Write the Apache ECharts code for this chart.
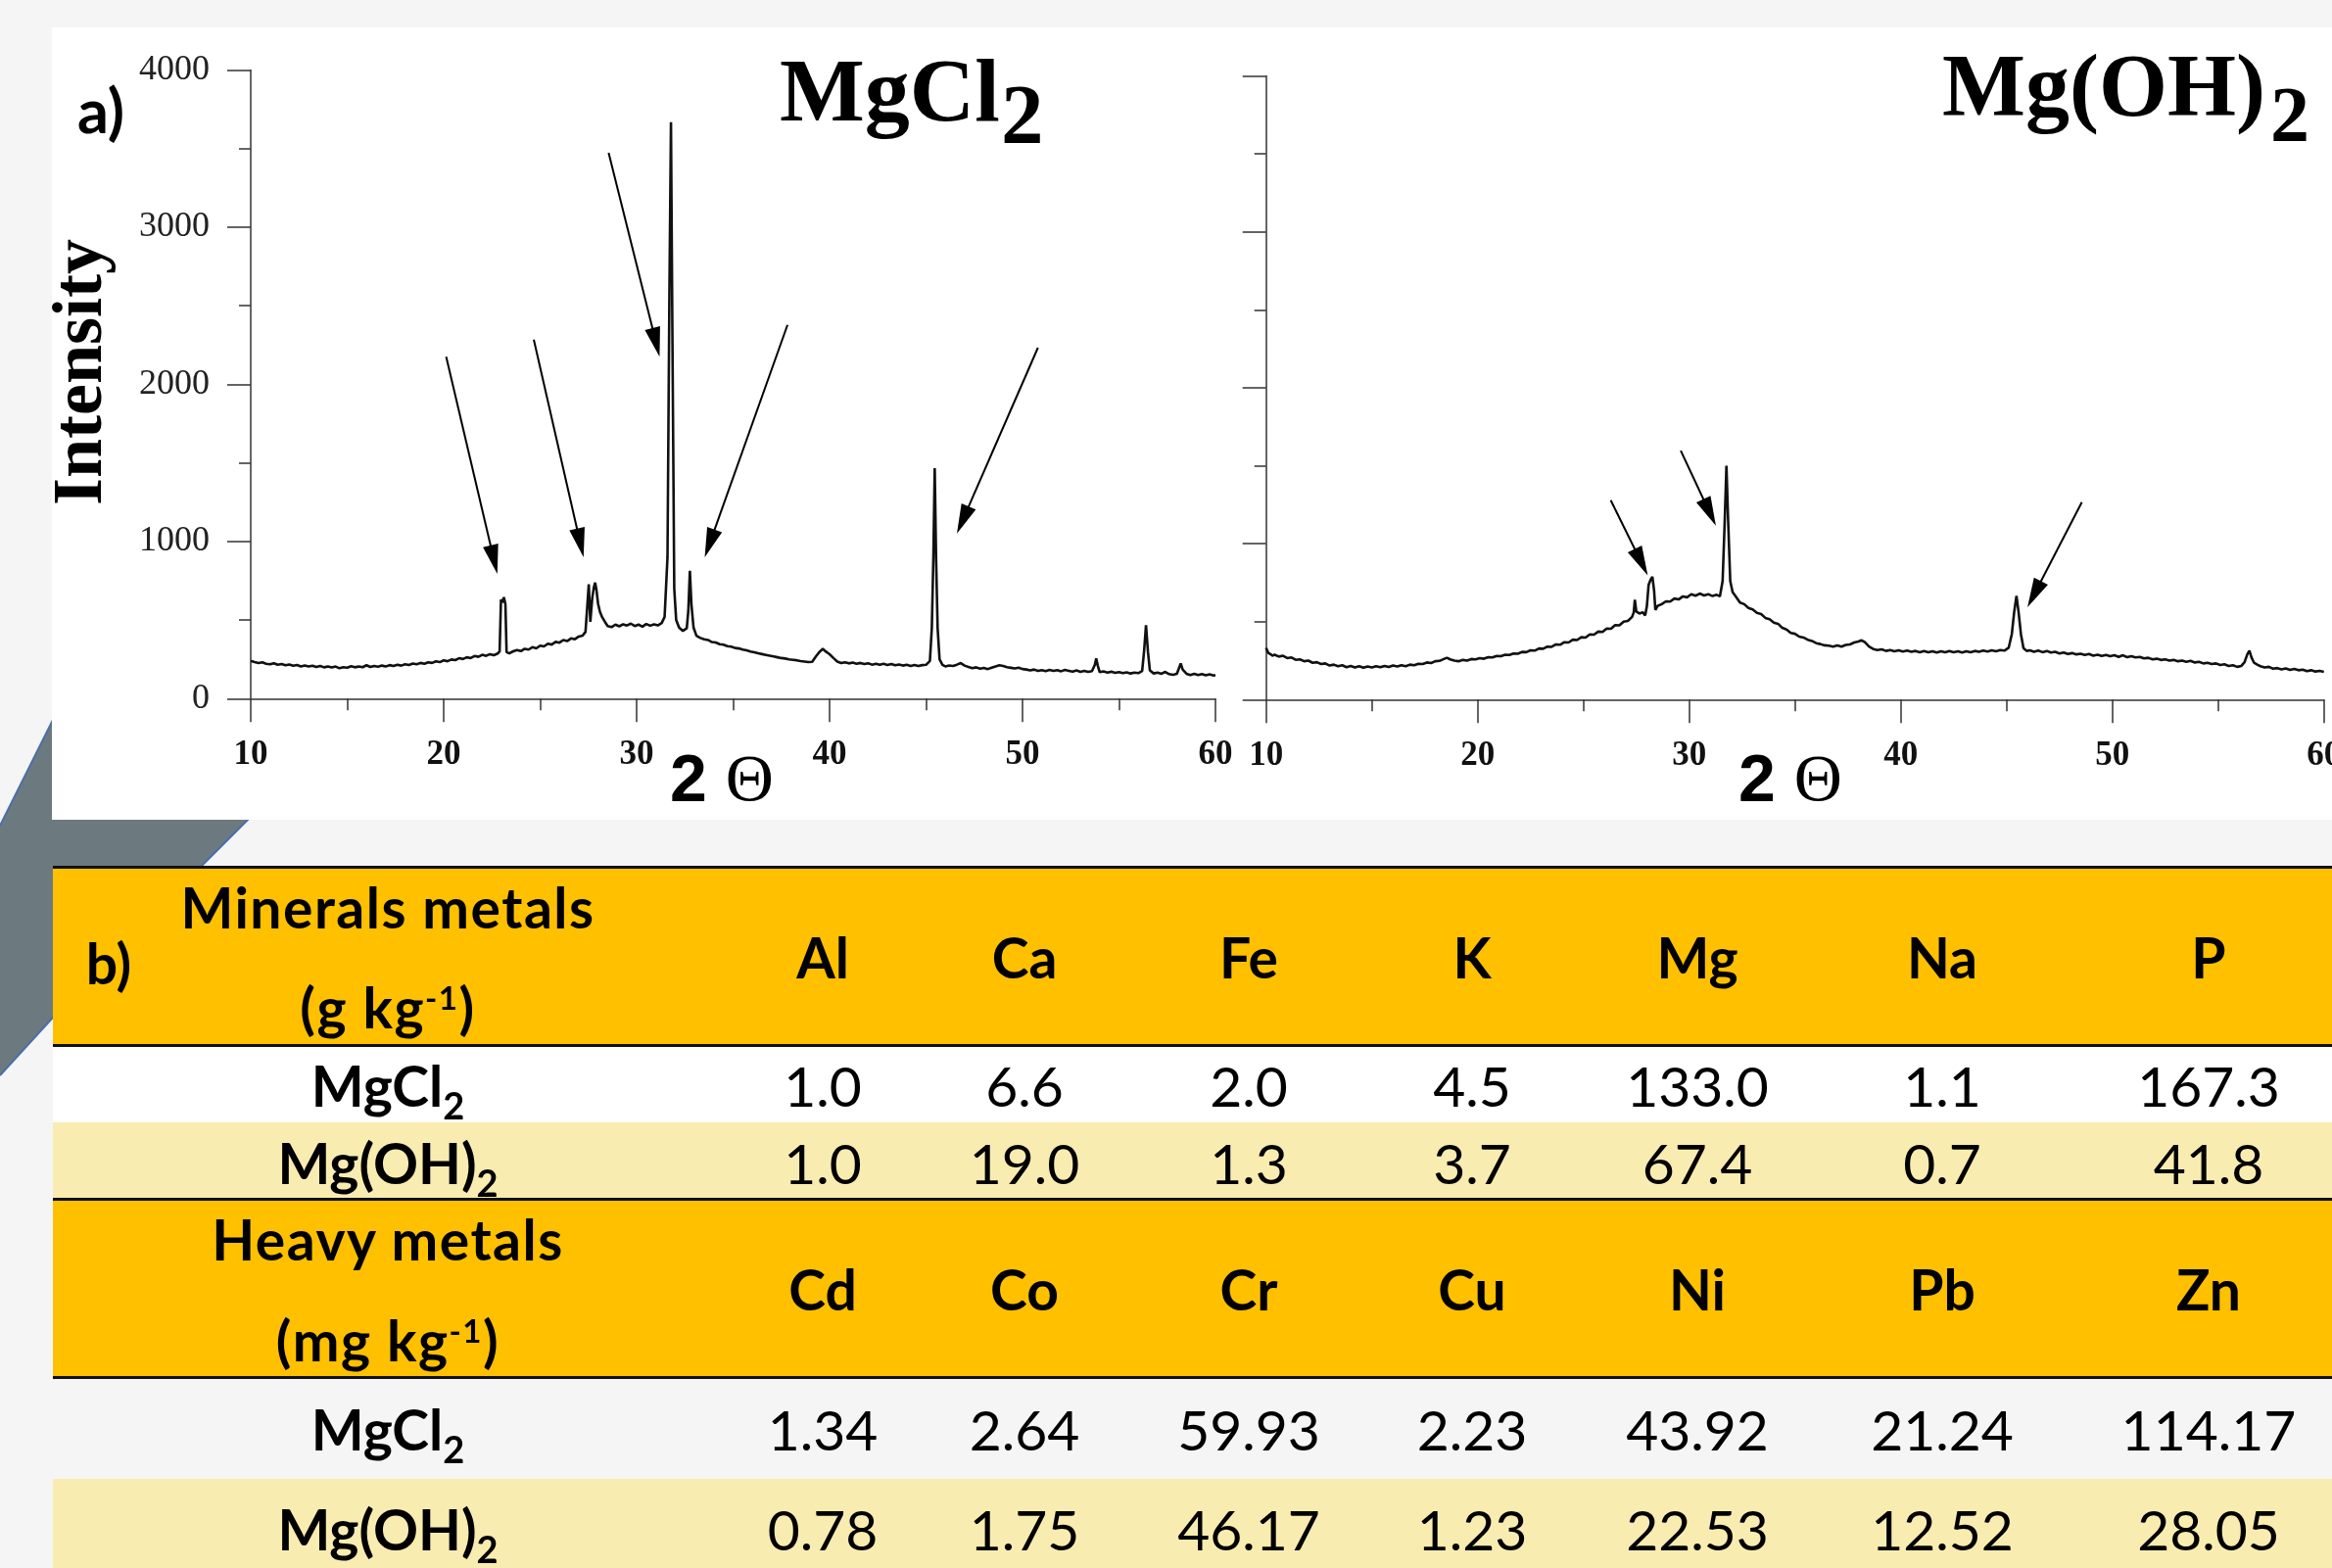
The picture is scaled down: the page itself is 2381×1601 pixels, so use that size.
<!DOCTYPE html>
<html>
<head>
<meta charset="utf-8">
<title>XRD patterns and metal contents</title>
<script src="https://cdn.jsdelivr.net/npm/echarts/dist/echarts.min.js"></script>
<style>
  html, body { margin: 0; padding: 0; }
  body { width: 2381px; height: 1601px; overflow: hidden; position: relative; background: #f5f5f5; }
  #chart { position: absolute; left: 0; top: 0; width: 2381px; height: 1601px; }
  #tbl { position: absolute; left: 0; top: 0; width: 2381px; height: 1601px; font-family: Lato, "Open Sans", sans-serif; color: #000; }
  #tbl .band { position: absolute; left: 54px; width: 2327px; }
  #tbl .rule { position: absolute; left: 54px; width: 2327px; height: 3px; background: #111; }
  #tbl .cell { position: absolute; width: 440px; height: 57px; line-height: 57px; font-size: 57px; text-align: center; white-space: nowrap; }
  #tbl .bold { font-weight: bold; }
  #tbl .wide { letter-spacing: 1.5px; }
  #tbl .sb { font-size: 38px; position: relative; top: 13px; }
  #tbl .sp { font-size: 33px; position: relative; top: -19px; }
</style>
</head>
<body>
<div id="chart"></div>
<div id="tbl"></div>
<script>
  // ---- b) table data ----
  const mineralHead = ['Al', 'Ca', 'Fe', 'K', 'Mg', 'Na', 'P']
  const mineralMgCl2 = [1.0, 6.6, 2.0, 4.5, 133.0, 1.1, 167.3]
  const mineralMgOH2 = [1.0, 19.0, 1.3, 3.7, 67.4, 0.7, 41.8]
  const heavyHead = ['Cd', 'Co', 'Cr', 'Cu', 'Ni', 'Pb', 'Zn']
  const heavyMgCl2 = [1.34, 2.64, 59.93, 2.23, 43.92, 21.24, 114.17]
  const heavyMgOH2 = [0.78, 1.75, 46.17, 1.23, 22.53, 12.52, 28.05]

  // ---- a) XRD patterns, [2theta, intensity] ----
  const mgcl2Pattern = [
    [10.0,240],[10.2,232],[10.4,226],[10.6,231],[10.8,222],[11.0,218],[11.2,225],[11.4,215],[11.6,220],[11.8,212],
    [12.0,217],[12.2,209],[12.4,214],[12.6,205],[12.8,211],[13.0,204],[13.2,209],[13.4,201],[13.6,207],[13.8,199],
    [14.0,205],[14.2,198],[14.4,204],[14.6,193],[14.7,185],[14.8,200],[15.0,197],[15.2,206],[15.4,199],[15.6,205],
    [15.8,200],[16.0,212],[16.2,201],[16.4,208],[16.6,203],[16.8,210],[17.0,205],[17.2,213],[17.4,207],[17.6,215],
    [17.8,210],[18.0,219],[18.2,214],[18.4,223],[18.6,218],[18.8,227],[19.0,222],[19.2,231],[19.4,227],[19.6,237],
    [19.8,232],[20.0,243],[20.2,238],[20.4,249],[20.6,245],[20.8,257],[21.0,252],[21.2,263],[21.4,258],[21.6,271],
    [21.8,266],[22.0,279],[22.2,272],[22.4,283],[22.6,276],[22.8,287],[22.9,300],[22.97,630],[23.05,612],[23.12,645],
    [23.2,600],[23.26,296],[23.4,288],[23.6,301],[23.8,309],[24.0,302],[24.2,317],[24.4,312],[24.6,327],[24.8,320],
    [25.0,337],[25.2,332],[25.4,349],[25.6,344],[25.8,361],[26.0,356],[26.2,373],[26.4,366],[26.6,383],[26.8,378],
    [27.0,395],[27.2,401],[27.35,425],[27.45,600],[27.52,728],[27.6,488],[27.7,640],[27.78,705],[27.85,738],[27.92,690],
    [28.0,605],[28.1,552],[28.2,522],[28.35,490],[28.5,462],[28.7,455],[28.9,471],[29.1,460],[29.3,473],[29.5,465],
    [29.7,477],[29.9,462],[30.1,471],[30.3,458],[30.5,475],[30.7,464],[30.9,473],[31.1,466],[31.3,481],[31.45,520],
    [31.6,900],[31.7,2600],[31.78,3668],[31.85,2400],[31.95,700],[32.05,500],[32.2,452],[32.4,430],[32.5,426],[32.6,448],
    [32.68,560],[32.76,814],[32.84,600],[32.95,452],[33.1,400],[33.3,386],[33.5,378],[33.7,373],[33.9,360],[34.1,357],
    [34.3,346],[34.5,343],[34.7,334],[34.9,331],[35.1,322],[35.3,319],[35.5,312],[35.7,307],[35.9,300],[36.1,295],
    [36.3,288],[36.5,283],[36.7,278],[36.9,273],[37.1,268],[37.3,263],[37.5,258],[37.7,255],[37.9,250],[38.1,247],
    [38.3,244],[38.5,239],[38.7,236],[38.9,232],[39.1,234],[39.3,270],[39.5,300],[39.65,316],[39.8,300],[40.0,282],
    [40.2,258],[40.4,236],[40.6,226],[40.8,231],[41.0,224],[41.2,229],[41.4,222],[41.6,227],[41.8,220],[42.0,225],
    [42.2,216],[42.4,222],[42.6,215],[42.8,221],[43.0,214],[43.2,220],[43.4,212],[43.6,217],[43.8,210],[44.0,215],
    [44.2,208],[44.4,214],[44.6,207],[44.8,213],[45.0,215],[45.2,240],[45.3,450],[45.38,900],[45.45,1466],[45.52,900],
    [45.6,450],[45.7,250],[45.85,215],[46.0,205],[46.2,211],[46.4,208],[46.6,216],[46.8,226],[47.0,210],[47.2,201],
    [47.4,194],[47.6,199],[47.8,190],[48.0,195],[48.2,188],[48.4,197],[48.6,205],[48.8,212],[49.0,207],[49.2,200],
    [49.4,196],[49.6,192],[49.8,197],[50.0,188],[50.2,185],[50.4,180],[50.6,185],[50.8,176],[51.0,181],[51.2,175],
    [51.4,182],[51.6,176],[51.8,181],[52.0,174],[52.2,182],[52.4,177],[52.6,172],[52.8,179],[53.0,170],[53.2,176],
    [53.4,170],[53.6,175],[53.75,215],[53.82,255],[53.9,210],[54.0,168],[54.2,173],[54.4,166],[54.6,171],[54.8,164],
    [55.0,169],[55.2,162],[55.4,167],[55.6,160],[55.8,165],[56.0,162],[56.2,175],[56.3,300],[56.4,467],[56.5,300],
    [56.6,180],[56.8,160],[57.0,165],[57.2,158],[57.4,170],[57.6,156],[57.8,152],[58.0,158],[58.1,190],[58.2,224],
    [58.3,185],[58.5,158],[58.7,150],[58.9,157],[59.1,150],[59.3,156],[59.5,148],[59.7,154],[59.9,147],[60.0,150]
  ]
  const mgoh2Pattern = [
    [10.0,332],[10.1,300],[10.2,292],[10.3,281],[10.4,288],[10.6,276],[10.8,281],[11.0,266],[11.2,270],[11.4,255],
    [11.6,258],[11.8,246],[12.0,250],[12.2,236],[12.4,240],[12.6,228],[12.8,232],[13.0,218],[13.2,224],[13.4,214],
    [13.6,220],[13.8,208],[14.0,216],[14.2,206],[14.4,214],[14.6,204],[14.8,212],[15.0,206],[15.2,214],[15.4,207],
    [15.6,216],[15.8,209],[16.0,218],[16.2,212],[16.4,220],[16.6,214],[16.8,224],[17.0,220],[17.2,230],[17.4,228],
    [17.6,238],[17.8,234],[18.0,246],[18.2,248],[18.4,260],[18.55,268],[18.7,258],[18.9,250],[19.1,246],[19.3,254],
    [19.5,250],[19.7,260],[19.9,258],[20.1,266],[20.3,262],[20.5,272],[20.7,270],[20.9,280],[21.1,278],[21.3,288],
    [21.5,286],[21.7,296],[21.9,294],[22.1,306],[22.3,304],[22.5,316],[22.7,314],[22.9,328],[23.1,326],[23.3,340],
    [23.5,338],[23.7,354],[23.9,352],[24.1,368],[24.3,366],[24.5,384],[24.7,382],[24.9,400],[25.1,398],[25.3,418],
    [25.5,416],[25.7,436],[25.9,434],[26.1,456],[26.3,454],[26.5,478],[26.7,476],[26.9,500],[27.1,504],[27.3,530],
    [27.38,560],[27.43,640],[27.5,565],[27.65,552],[27.8,560],[27.92,540],[28.0,600],[28.08,735],[28.18,770],[28.26,787],
    [28.34,700],[28.4,575],[28.5,600],[28.7,612],[28.9,630],[29.1,628],[29.3,648],[29.5,642],[29.7,662],[29.9,656],
    [30.1,676],[30.3,666],[30.5,680],[30.7,668],[30.9,676],[31.1,664],[31.3,672],[31.45,662],[31.58,760],[31.68,1150],
    [31.76,1500],[31.84,1150],[31.94,760],[32.05,690],[32.2,662],[32.4,622],[32.6,612],[32.8,588],[33.0,578],[33.2,556],
    [33.4,548],[33.6,524],[33.8,516],[34.0,494],[34.2,486],[34.4,460],[34.6,450],[34.8,428],[35.0,422],[35.2,404],
    [35.4,398],[35.6,384],[35.8,376],[36.0,362],[36.2,356],[36.4,348],[36.6,346],[36.8,340],[37.0,348],[37.2,340],
    [37.4,350],[37.6,354],[37.8,366],[38.0,372],[38.15,380],[38.3,368],[38.5,340],[38.7,324],[38.9,318],[39.1,322],
    [39.3,312],[39.5,318],[39.7,310],[39.9,316],[40.1,308],[40.3,314],[40.5,306],[40.7,312],[40.9,304],[41.1,312],
    [41.3,304],[41.5,310],[41.7,302],[41.9,310],[42.1,304],[42.3,312],[42.5,304],[42.7,310],[42.9,302],[43.1,310],
    [43.3,304],[43.5,312],[43.7,306],[43.9,314],[44.1,308],[44.3,316],[44.5,310],[44.7,318],[44.9,314],[45.1,332],
    [45.25,420],[45.36,560],[45.47,665],[45.57,560],[45.68,420],[45.8,330],[45.95,312],[46.1,316],[46.3,306],[46.5,314],
    [46.7,304],[46.9,312],[47.1,302],[47.3,306],[47.5,296],[47.7,302],[47.9,292],[48.1,298],[48.3,290],[48.5,294],
    [48.7,286],[48.9,292],[49.1,282],[49.3,288],[49.5,280],[49.7,286],[49.9,278],[50.1,284],[50.3,274],[50.5,284],
    [50.7,272],[50.9,278],[51.1,270],[51.3,274],[51.5,264],[51.7,268],[51.9,258],[52.1,262],[52.3,254],[52.5,258],
    [52.7,250],[52.9,254],[53.1,246],[53.3,250],[53.5,242],[53.7,248],[53.9,238],[54.1,242],[54.3,232],[54.5,236],
    [54.7,228],[54.9,232],[55.1,222],[55.3,226],[55.5,216],[55.7,220],[55.9,210],[56.1,216],[56.25,240],[56.38,290],
    [56.48,314],[56.58,270],[56.7,236],[56.85,224],[57.0,214],[57.2,206],[57.4,210],[57.6,198],[57.8,202],[58.0,194],
    [58.2,200],[58.4,190],[58.6,196],[58.8,188],[59.0,192],[59.2,182],[59.4,188],[59.6,180],[59.8,184],[60.0,178]
  ]
  const xTicks = [10, 20, 30, 40, 50, 60]
  const yTicks = [0, 1000, 2000, 3000, 4000]

  // arrows: [tail, tip] in [2theta, intensity]
  const mgcl2Arrows = [
    [[20.13, 2176], [22.78, 793]],
    [[24.67, 2284], [27.25, 899]],
    [[28.55, 3473], [31.19, 2176]],
    [[37.82, 2378], [33.53, 899]],
    [[50.80, 2233], [46.60, 1051]]
  ]
  const mgoh2Arrows = [
    [[26.29, 1279], [28.04, 797]],
    [[29.60, 1597], [31.26, 1115]],
    [[48.56, 1266], [45.99, 592]]
  ]

  // ---------- table ----------
  const tbl = document.getElementById('tbl')
  const colX = [396, 840, 1046, 1275, 1503, 1733, 1983, 2255]
  const bands = [
    [885, 182, '#ffc000'], [1067, 79, '#ffffff'], [1146, 78, '#f9ecb1'],
    [1224, 182, '#ffc000'], [1510, 100, '#f9ecb1']
  ]
  bands.forEach(b => {
    const d = document.createElement('div')
    d.className = 'band'
    d.style.top = b[0] + 'px'
    d.style.height = b[1] + 'px'
    d.style.background = b[2]
    tbl.appendChild(d)
  })
  ;[884, 1066, 1223, 1405].forEach(y => {
    const d = document.createElement('div')
    d.className = 'rule'
    d.style.top = y + 'px'
    tbl.appendChild(d)
  })
  function put(html, cx, mid, cls) {
    const d = document.createElement('div')
    d.className = 'cell ' + (cls || '')
    d.style.left = (cx - 220) + 'px'
    d.style.top = (mid - 30) + 'px'
    d.innerHTML = html
    tbl.appendChild(d)
  }
  const mgcl2Html = 'MgCl<span class="sb">2</span>'
  const mgoh2Html = 'Mg(OH)<span class="sb">2</span>'

  put('b)', 111, 985, 'bold')
  put('Minerals metals', colX[0], 928, 'bold wide')
  put('(g kg<span class="sp">-1</span>)', colX[0], 1030, 'bold wide')
  mineralHead.forEach((h, i) => put(h, colX[i + 1], 979, 'bold'))
  put(mgcl2Html, colX[0], 1110, 'bold')
  mineralMgCl2.forEach((v, i) => put(v.toFixed(1), colX[i + 1], 1110))
  put(mgoh2Html, colX[0], 1189, 'bold')
  mineralMgOH2.forEach((v, i) => put(v.toFixed(1), colX[i + 1], 1189))

  put('Heavy metals', colX[0], 1267, 'bold wide')
  put('(mg kg<span class="sp">-1</span>)', colX[0], 1370, 'bold wide')
  heavyHead.forEach((h, i) => put(h, colX[i + 1], 1318, 'bold'))
  put(mgcl2Html, colX[0], 1461, 'bold')
  heavyMgCl2.forEach((v, i) => put(v.toFixed(2), colX[i + 1], 1461))
  put(mgoh2Html, colX[0], 1563, 'bold')
  heavyMgOH2.forEach((v, i) => put(v.toFixed(2), colX[i + 1], 1563))

  // ---------- charts ----------
  const chart = echarts.init(document.getElementById('chart'))
  const serif = 'Liberation Serif'
  const axisColor = '#333'

  function makeX(gridIndex) {
    return {
      type: 'value', gridIndex: gridIndex,
      min: xTicks[0], max: xTicks[xTicks.length - 1], interval: xTicks[1] - xTicks[0],
      axisLine: { show: true, onZero: false, lineStyle: { color: axisColor, width: 1.5 } },
      axisTick: { show: true, length: 24, lineStyle: { color: axisColor, width: 1.5 } },
      minorTick: { show: true, splitNumber: 2, length: 12, lineStyle: { color: axisColor, width: 1.5 } },
      splitLine: { show: false },
      minorSplitLine: { show: false },
      axisLabel: {
        show: true, showMinLabel: true, showMaxLabel: true, hideOverlap: false,
        fontFamily: serif, fontWeight: 'bold', fontSize: 35, color: '#111', margin: 40,
        formatter: v => String(v)
      }
    }
  }
  function makeY(gridIndex, labels) {
    return {
      type: 'value', gridIndex: gridIndex,
      min: yTicks[0], max: yTicks[yTicks.length - 1], interval: yTicks[1] - yTicks[0],
      axisLine: { show: true, onZero: false, lineStyle: { color: axisColor, width: 1.5 } },
      axisTick: { show: true, length: 24, lineStyle: { color: axisColor, width: 1.5 } },
      minorTick: { show: true, splitNumber: 2, length: 12, lineStyle: { color: axisColor, width: 1.5 } },
      splitLine: { show: false },
      minorSplitLine: { show: false },
      axisLabel: {
        show: labels, showMinLabel: true, showMaxLabel: true,
        fontFamily: serif, fontSize: 36, color: '#222', margin: 42,
        formatter: v => String(v)
      }
    }
  }
  function makeSeries(data, gridIndex) {
    return {
      type: 'line', xAxisIndex: gridIndex, yAxisIndex: gridIndex,
      data: data, symbol: 'none', showSymbol: false, silent: true,
      lineStyle: { color: '#111', width: 2.6 },
      animation: false
    }
  }
  function label(x, y, text, font, extra) {
    return Object.assign({
      type: 'text', x: x, y: y, silent: true,
      style: { text: text, font: font, fill: '#000', align: 'left', verticalAlign: 'middle', textAlign: 'left', textVerticalAlign: 'middle' }
    }, extra || {})
  }
  function thetaName(x) {
    return {
      type: 'text', x: x, y: 799, silent: true,
      style: {
        text: '{a|2 }{b|Θ}', align: 'center', verticalAlign: 'middle', textAlign: 'center', textVerticalAlign: 'middle',
        rich: {
          a: { fontFamily: 'Liberation Sans', fontWeight: 'bold', fontSize: 68, fill: '#000', color: '#000' },
          b: { fontFamily: serif, fontSize: 68, fill: '#000', color: '#000' }
        }
      }
    }
  }

  chart.setOption({
    animation: false,
    textStyle: { fontFamily: serif },
    grid: [
      { left: 256, top: 71.5, width: 985, height: 641.8, containLabel: false, outerBoundsMode: 'none' },
      { left: 1292.7, top: 77.5, width: 1080, height: 636.8, containLabel: false, outerBoundsMode: 'none' }
    ],
    xAxis: [makeX(0), makeX(1)],
    yAxis: [makeY(0, true), makeY(1, false)],
    series: [makeSeries(mgcl2Pattern, 0), makeSeries(mgoh2Pattern, 1)],
    graphic: [
      { type: 'polygon', z: -10, silent: true,
        shape: { points: [[80, 683], [400, 690], [253, 837], [205, 885], [53, 1040], [0, 1098], [0, 843]] },
        style: { fill: '#6c7a80' } },
      { type: 'polyline', z: -10, silent: true, shape: { points: [[80, 683], [0, 843]] },
        style: { stroke: '#4a6ea9', lineWidth: 2, fill: null } },
      { type: 'polyline', z: -10, silent: true,
        shape: { points: [[400, 690], [253, 837], [205, 885], [53, 1040], [0, 1098]] },
        style: { stroke: '#4a6ea9', lineWidth: 2, fill: null } },
      { type: 'rect', z: -9, silent: true, shape: { x: 53, y: 28, width: 2330, height: 809 },
        style: { fill: '#ffffff' } },
      label(79, 116, 'a)', 'bold 63px Lato'),
      { type: 'text', x: 84, y: 380, rotation: Math.PI / 2, silent: true,
        style: { text: 'Intensity', font: 'bold 72px "Liberation Serif"', fill: '#000', align: 'center', verticalAlign: 'middle', textAlign: 'center', textVerticalAlign: 'middle' } },
      label(796, 99, 'MgCl', 'bold 92px "Liberation Serif"'),
      label(1022, 124, '2', 'bold 87px "Liberation Serif"'),
      label(1983, 95, 'Mg(OH)', 'bold 90px "Liberation Serif"'),
      label(2318, 123, '2', 'bold 80px "Liberation Serif"'),
      thetaName(737),
      thetaName(1828)
    ]
  })

  // arrows: end the line half a head short so the triangle tip lands on the read tip
  const headLen = 30
  function arrowData(list, gridIndex) {
    return list.map(a => {
      const p0 = chart.convertToPixel({ gridIndex: gridIndex }, a[0])
      const p1 = chart.convertToPixel({ gridIndex: gridIndex }, a[1])
      const dx = p1[0] - p0[0], dy = p1[1] - p0[1]
      const len = Math.sqrt(dx * dx + dy * dy)
      const end = chart.convertFromPixel({ gridIndex: gridIndex },
        [p1[0] - dx / len * headLen / 2, p1[1] - dy / len * headLen / 2])
      return [
        { coord: a[0], symbol: 'none' },
        { coord: end, symbol: 'triangle', symbolSize: [16, headLen] }
      ]
    })
  }
  function arrowMark(list, gridIndex) {
    return {
      silent: true, animation: false,
      symbol: ['none', 'triangle'],
      label: { show: false },
      emphasis: { disabled: true },
      lineStyle: { color: '#000', width: 2, type: 'solid' },
      itemStyle: { color: '#000' },
      data: arrowData(list, gridIndex)
    }
  }
  chart.setOption({
    series: [
      { markLine: arrowMark(mgcl2Arrows, 0) },
      { markLine: arrowMark(mgoh2Arrows, 1) }
    ]
  })
</script>
</body>
</html>
